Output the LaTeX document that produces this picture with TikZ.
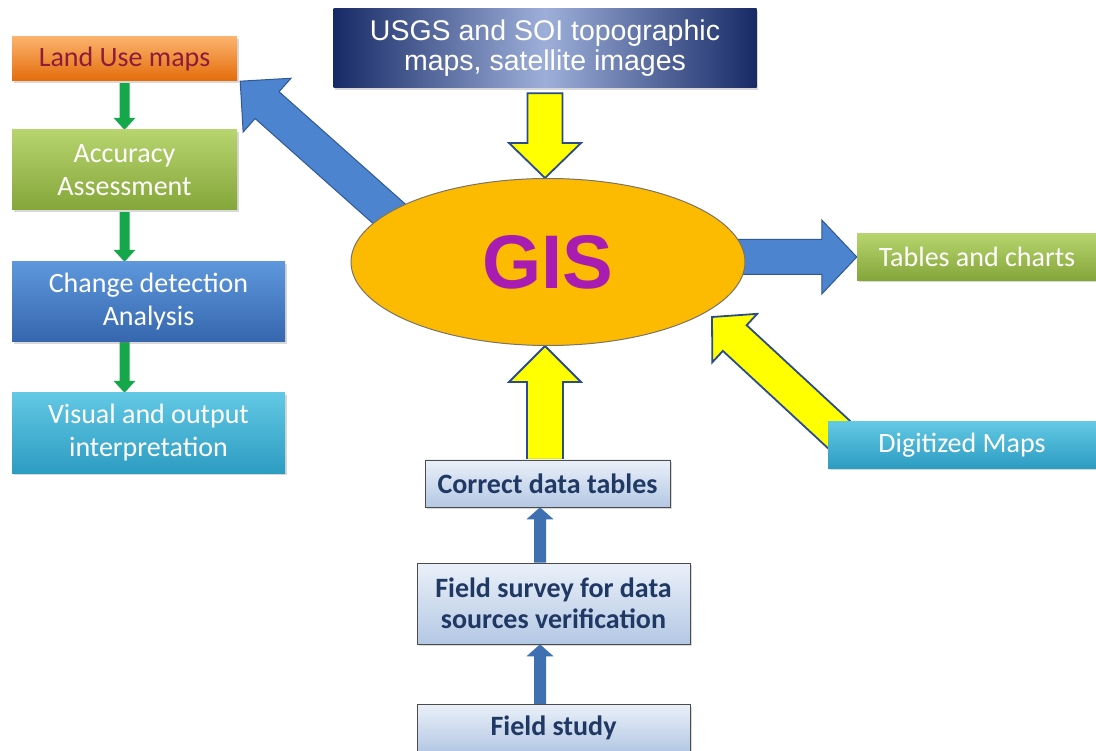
\documentclass[tikz,border=0pt]{standalone}
\usepackage{fontspec}
\setmainfont{Carlito}
\newfontfamily\arialf{Liberation Sans}
\usetikzlibrary{calc,shadows,shapes.geometric}
\pgfdeclarelayer{bg}
\pgfsetlayers{bg,main}
\definecolor{orT}{HTML}{FBB26C}\definecolor{orB}{HTML}{E46C0A}
\definecolor{grT}{HTML}{B7D46E}\definecolor{grB}{HTML}{84A63A}
\definecolor{blT}{HTML}{5E97DC}\definecolor{blB}{HTML}{3566AE}
\definecolor{cyT}{HTML}{62C8E4}\definecolor{cyB}{HTML}{2D9CC2}
\definecolor{lbT}{HTML}{EAF0F9}\definecolor{lbB}{HTML}{B4C8E4}
\definecolor{usL}{HTML}{9DAFD9}\definecolor{usD}{HTML}{172A66}
\definecolor{gisF}{HTML}{FCBA00}\definecolor{gisD}{HTML}{7A7366}
\definecolor{gisT}{HTML}{A81CB2}
\definecolor{yel}{HTML}{FFFF00}\definecolor{yelD}{HTML}{2B4C8C}
\definecolor{bigB}{HTML}{4D84CF}\definecolor{bigBD}{HTML}{2E5896}
\definecolor{grA}{HTML}{14A84A}\definecolor{sbA}{HTML}{3E70B2}
\definecolor{luText}{HTML}{8C1C3A}\definecolor{navyT}{HTML}{1F3864}
\newcommand\fatarrow[6]{%
  \coordinate (fatC) at ($(#3)!#6!(#2)$);
  \draw[#1] ($(#2)!#4!90:(#3)$) -- ($(fatC)!#4!90:(#3)$) -- ($(fatC)!#5!90:(#3)$) -- (#3)
    -- ($(fatC)!#5!-90:(#3)$) -- ($(fatC)!#4!-90:(#3)$) -- ($(#2)!#4!-90:(#3)$) -- cycle;}
\begin{document}
\begin{tikzpicture}[x=1pt,y=-1pt,
  fbox/.style={rectangle, inner sep=0pt, align=center,
    font=\fontsize{28}{33}\selectfont, text=white,
    drop shadow={shadow xshift=1.5pt, shadow yshift=-2pt, opacity=0.3}},
  orangebox/.style={fbox, top color=orT, bottom color=orB, text=luText},
  greenbox/.style={fbox, top color=grT, bottom color=grB},
  bluebox/.style={fbox, top color=blT, bottom color=blB},
  cyanbox/.style={fbox, top color=cyT, bottom color=cyB},
  lbbox/.style={fbox, top color=lbT, bottom color=lbB, draw=black!70, line width=0.6pt,
    text=navyT, font=\bfseries\fontsize{28}{31}\selectfont},
  usgsbox/.style={fbox, left color=usD, right color=usD, middle color=usL,
    font=\arialf\fontsize{28.5}{30}\selectfont},
  yarrow/.style={fill=yel, draw=yelD, line width=1.8pt, line join=miter},
  barrow/.style={fill=bigB, draw=bigBD, line width=1pt, line join=miter},
  garrow/.style={fill=grA, draw=none},
  sbarrow/.style={fill=sbA, draw=none}]
\useasboundingbox (0,0) rectangle (1096,751);
\begin{pgfonlayer}{bg}
\fill[white] (0,0) rectangle (1096,751);
\end{pgfonlayer}

\node[orangebox, minimum width=225pt, minimum height=44pt] (lu) at (124.5,59) {Land Use maps};
\node[greenbox, minimum width=225pt, minimum height=80pt] (acc) at (124.5,170) {Accuracy\\Assessment};
\node[bluebox, minimum width=273pt, minimum height=80pt] (cd) at (148.5,302) {Change detection\\Analysis};
\node[cyanbox, minimum width=273pt, minimum height=80pt] (vis) at (148.5,433) {Visual and output\\interpretation};
\node[usgsbox, minimum width=423pt, minimum height=79pt] (usgs) at (545,48.5) {USGS and SOI topographic\\maps, satellite images};
\node[greenbox, minimum width=240pt, minimum height=47pt] (tc) at (977,257) {Tables and charts};
\node[cyanbox, minimum width=268pt, minimum height=46pt] (dm) at (962,445) {Digitized Maps};
\node[lbbox, minimum width=245pt, minimum height=47pt] (cdt) at (547.5,483.5) {Correct data tables};
\node[lbbox, minimum width=273pt, minimum height=81pt] (fs) at (553.5,603.5) {Field survey for data\\sources verification};
\node[lbbox, minimum width=273pt, minimum height=47pt] (fst) at (553.5,728) {Field study};
\node[ellipse, fill=gisF, draw=gisD, line width=1pt, minimum width=394pt, minimum height=167pt, inner sep=0pt,
  text=gisT, font=\arialf\bfseries\fontsize{76}{80}\selectfont] (gis) at (548,262) {GIS};

\coordinate (luTip) at ([xshift=3pt]lu.south east);
\coordinate (bdTail) at (404,227);
\coordinate (ydTip) at (712,317);
\coordinate (ydTail) at (860,454);
\coordinate (ydnA) at ([yshift=-5pt]usgs.south);
\coordinate (ydnB) at (ydnA |- gis.north);
\coordinate (yuA) at ([xshift=-2.5pt]cdt.north);
\coordinate (yuB) at (yuA |- gis.south);
\coordinate (brA) at (gis.center |- tc.west);
\coordinate (g1a) at ([yshift=-2pt]lu.south);
\coordinate (g1b) at (g1a |- acc.north);
\coordinate (g2a) at ([yshift=-2pt]acc.south);
\coordinate (g2b) at (g2a |- cd.north);
\coordinate (g3a) at (g2a |- cd.south);
\coordinate (g3b) at (g2a |- vis.north);
\coordinate (s1a) at ([xshift=-13.5pt]fs.north);
\coordinate (s1b) at (s1a |- cdt.south);
\coordinate (s2a) at ([xshift=-13.5pt]fst.north);
\coordinate (s2b) at (s2a |- fs.south);

\begin{pgfonlayer}{bg}
\fatarrow{barrow}{bdTail}{luTip}{18pt}{36pt}{36pt}
\fatarrow{barrow}{brA}{tc.west}{17.5pt}{37pt}{35pt}
\fatarrow{yarrow}{ydTail}{ydTip}{17.5pt}{33pt}{31pt}
\fatarrow{yarrow}{ydnA}{ydnB}{17.5pt}{36pt}{35pt}
\fatarrow{yarrow}{yuA}{yuB}{18pt}{36pt}{36pt}
\fatarrow{garrow}{g1a}{g1b}{5pt}{11pt}{12pt}
\fatarrow{garrow}{g2a}{g2b}{5pt}{11pt}{12pt}
\fatarrow{garrow}{g3a}{g3b}{5pt}{11pt}{12pt}
\fatarrow{sbarrow}{s1a}{s1b}{6pt}{13.5pt}{12pt}
\fatarrow{sbarrow}{s2a}{s2b}{6pt}{13.5pt}{12pt}
\end{pgfonlayer}
\end{tikzpicture}
\end{document}
